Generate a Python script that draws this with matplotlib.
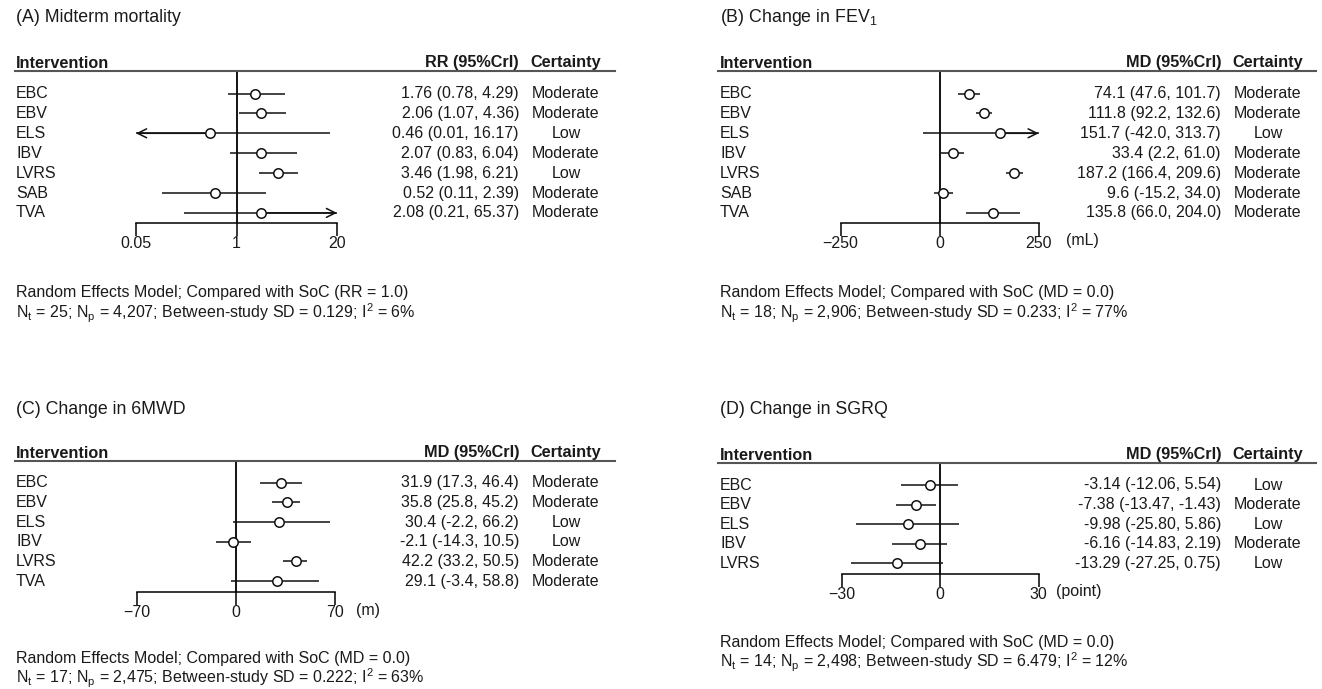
import matplotlib
matplotlib.use('Agg')
import matplotlib.pyplot as plt
from matplotlib.transforms import blended_transform_factory
from matplotlib.lines import Line2D
from matplotlib.ticker import NullLocator

plt.rcParams['font.family'] = ['Liberation Sans', 'DejaVu Sans']
plt.rcParams['mathtext.fontset'] = 'custom'
plt.rcParams['mathtext.rm'] = 'Liberation Sans'
plt.rcParams['mathtext.it'] = 'Liberation Sans:italic'

# ---------------- data ----------------
a_names = ['EBC', 'EBV', 'ELS', 'IBV', 'LVRS', 'SAB', 'TVA']
a_est = [1.76, 2.06, 0.46, 2.07, 3.46, 0.52, 2.08]
a_lo = [0.78, 1.07, 0.01, 0.83, 1.98, 0.11, 0.21]
a_hi = [4.29, 4.36, 16.17, 6.04, 6.21, 2.39, 65.37]
a_cert = ['Moderate', 'Moderate', 'Low', 'Moderate', 'Low', 'Moderate', 'Moderate']
a_ticks = [0.05, 1, 20]
a_ticklabels = ['0.05', '1', '20']

b_names = ['EBC', 'EBV', 'ELS', 'IBV', 'LVRS', 'SAB', 'TVA']
b_est = [74.1, 111.8, 151.7, 33.4, 187.2, 9.6, 135.8]
b_lo = [47.6, 92.2, -42.0, 2.2, 166.4, -15.2, 66.0]
b_hi = [101.7, 132.6, 313.7, 61.0, 209.6, 34.0, 204.0]
b_cert = ['Moderate', 'Moderate', 'Low', 'Moderate', 'Moderate', 'Moderate', 'Moderate']
b_ticks = [-250, 0, 250]
b_ticklabels = ['\u2212250', '0', '250']

c_names = ['EBC', 'EBV', 'ELS', 'IBV', 'LVRS', 'TVA']
c_est = [31.9, 35.8, 30.4, -2.1, 42.2, 29.1]
c_lo = [17.3, 25.8, -2.2, -14.3, 33.2, -3.4]
c_hi = [46.4, 45.2, 66.2, 10.5, 50.5, 58.8]
c_cert = ['Moderate', 'Moderate', 'Low', 'Low', 'Moderate', 'Moderate']
c_ticks = [-70, 0, 70]
c_ticklabels = ['\u221270', '0', '70']

d_names = ['EBC', 'EBV', 'ELS', 'IBV', 'LVRS']
d_est = [-3.14, -7.38, -9.98, -6.16, -13.29]
d_lo = [-12.06, -13.47, -25.80, -14.83, -27.25]
d_hi = [5.54, -1.43, 5.86, 2.19, 0.75]
d_cert = ['Low', 'Moderate', 'Low', 'Moderate', 'Low']
d_ticks = [-30, 0, 30]
d_ticklabels = ['\u221230', '0', '30']

# ---------------- figure ----------------
W, H = 1322, 689
fig = plt.figure(figsize=(W / 100, H / 100), dpi=100)
fig.patch.set_facecolor('white')

def fx(x):
    return x / W

def fy(y):
    return 1 - y / H

TXT = '#1a1a1a'
FS = 11.5


def draw_panel(title, names, est, lo, hi, cert, decimals, ticks, ticklabels, log,
               ref, eff, unit, foot1, foot2, L):
    ax = fig.add_axes([fx(L['ax0']), fy(L['axis']),
                       fx(L['ax1'] - L['ax0']), (L['axis'] - L['hline']) / H])
    r0, st = L['r0'], L['step']
    ax.set_ylim((L['axis'] - r0) / st, (L['hline'] - r0) / st)
    if log:
        ax.set_xscale('log')
    xmin, xmax = ticks[0], ticks[-1]
    ax.set_xlim(xmin, xmax)
    ax.patch.set_alpha(0)
    for s in ['top', 'right', 'left']:
        ax.spines[s].set_visible(False)
    ax.spines['bottom'].set_color('black')
    ax.spines['bottom'].set_linewidth(1.1)
    ax.set_xticks(ticks)
    ax.set_xticklabels(ticklabels)
    ax.xaxis.set_minor_locator(NullLocator())
    ax.set_yticks([])
    ax.tick_params(axis='x', direction='out', length=9, width=1.1, pad=0.6,
                   labelsize=FS, colors='black', labelcolor=TXT)
    ax.axvline(ref, color='black', lw=1.3, zorder=2)

    trans = blended_transform_factory(fig.transFigure, ax.transData)
    fmt = '{:.%df} ({:.%df}, {:.%df})' % (decimals, decimals, decimals)
    for i in range(len(names)):
        l = max(lo[i], xmin)
        h = min(hi[i], xmax)
        ax.plot([l, h], [i, i], color='#111111', lw=1.1, zorder=3,
                solid_capstyle='butt', clip_on=False)
        if lo[i] < xmin:
            ax.annotate('', xy=(xmin, i), xytext=(est[i], i),
                        arrowprops=dict(arrowstyle='->', color='#111111', lw=1.1,
                                        mutation_scale=16, shrinkA=0, shrinkB=0),
                        annotation_clip=False)
        if hi[i] > xmax:
            ax.annotate('', xy=(xmax, i), xytext=(est[i], i),
                        arrowprops=dict(arrowstyle='->', color='#111111', lw=1.1,
                                        mutation_scale=16, shrinkA=0, shrinkB=0),
                        annotation_clip=False)
        ax.plot([est[i]], [i], 'o', mfc='white', mec='#111111', ms=6.8, mew=1.1,
                zorder=5, clip_on=False)
        ax.text(fx(L['x0']), i, names[i], transform=trans, ha='left', va='center',
                fontsize=FS, color=TXT)
        ax.text(fx(L['vr']), i, fmt.format(est[i], lo[i], hi[i]), transform=trans,
                ha='right', va='center', fontsize=FS, color=TXT)
        ax.text(fx(L['cc']), i, cert[i], transform=trans, ha='center', va='center',
                fontsize=FS, color=TXT)

    fig.text(fx(L['x0']), fy(L['title']), title, ha='left', va='center',
             fontsize=12.8, color=TXT)
    fig.text(fx(L['x0']), fy(L['head']), 'Intervention', ha='left', va='center',
             fontsize=11.7, weight='bold', color=TXT)
    fig.text(fx(L['vr']), fy(L['head']), eff + ' (95%CrI)', ha='right', va='center',
             fontsize=11.7, weight='bold', color=TXT)
    fig.text(fx(L['cc']), fy(L['head']), 'Certainty', ha='center', va='center',
             fontsize=11.7, weight='bold', color=TXT)
    fig.add_artist(Line2D([fx(L['l0']), fx(L['l1'])], [fy(L['hline'])] * 2,
                          transform=fig.transFigure, color='#555555', lw=1.5))
    if unit:
        fig.text(fx(L['ux']), fy(L['axis'] + 18), unit, ha='left', va='center',
                 fontsize=FS, color=TXT)
    fig.text(fx(L['x0']), fy(L['f1']), foot1, ha='left', va='center',
             fontsize=FS, color=TXT)
    fig.text(fx(L['x0']), fy(L['f2']), foot2, ha='left', va='center',
             fontsize=FS, color=TXT)


def foot(nt, npat, sd, i2):
    return ('N$_\\mathregular{t}$ = %s; N$_\\mathregular{p}$ = %s; Between-study SD = %s; '
            'I$^\\mathregular{2}$ = %s' % (nt, npat, sd, i2))


LA = dict(x0=16, title=18, head=63, hline=71, l0=15, l1=615, ax0=136, ax1=337,
          axis=223, r0=93.5, step=19.9, vr=519, cc=566, ux=0, f1=293, f2=313)
LB = dict(x0=720, title=18, head=63, hline=71, l0=718, l1=1316, ax0=840.5, ax1=1038.7,
          axis=223, r0=93.5, step=19.9, vr=1221, cc=1268, ux=1066, f1=293, f2=313)
LC = dict(x0=16, title=410, head=453, hline=461, l0=15, l1=615, ax0=137, ax1=335,
          axis=592, r0=482.7, step=19.67, vr=519, cc=566, ux=356, f1=658, f2=678)
LD = dict(x0=720, title=410, head=455, hline=463, l0=718, l1=1316, ax0=842, ax1=1038.5,
          axis=573.5, r0=485, step=19.6, vr=1221, cc=1268, ux=1056, f1=642, f2=662)

draw_panel('(A) Midterm mortality', a_names, a_est, a_lo, a_hi, a_cert, 2,
           a_ticks, a_ticklabels, True, 1, 'RR', None,
           'Random Effects Model; Compared with SoC (RR = 1.0)',
           foot(25, '4,207', '0.129', '6%'), LA)
draw_panel('(B) Change in FEV$_\\mathregular{1}$', b_names, b_est, b_lo, b_hi, b_cert, 1,
           b_ticks, b_ticklabels, False, 0, 'MD', '(mL)',
           'Random Effects Model; Compared with SoC (MD = 0.0)',
           foot(18, '2,906', '0.233', '77%'), LB)
draw_panel('(C) Change in 6MWD', c_names, c_est, c_lo, c_hi, c_cert, 1,
           c_ticks, c_ticklabels, False, 0, 'MD', '(m)',
           'Random Effects Model; Compared with SoC (MD = 0.0)',
           foot(17, '2,475', '0.222', '63%'), LC)
draw_panel('(D) Change in SGRQ', d_names, d_est, d_lo, d_hi, d_cert, 2,
           d_ticks, d_ticklabels, False, 0, 'MD', '(point)',
           'Random Effects Model; Compared with SoC (MD = 0.0)',
           foot(14, '2,498', '6.479', '12%'), LD)

fig.savefig('out.png', dpi=100, facecolor='white')
